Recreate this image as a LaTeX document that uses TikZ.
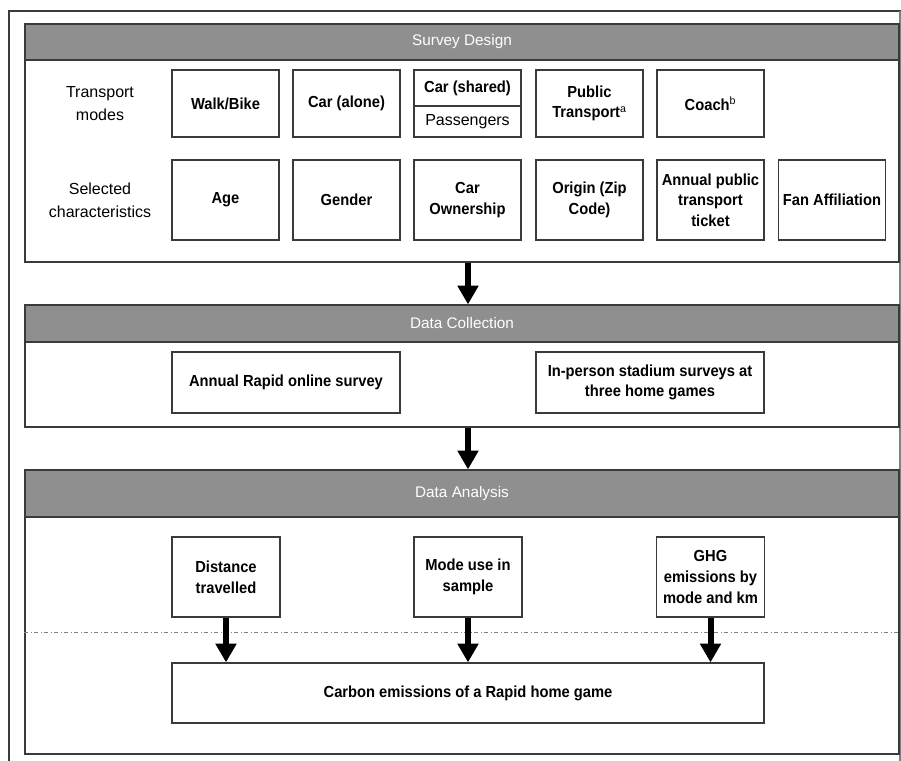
\documentclass[tikz,border=0pt]{standalone}
\usepackage{fontspec}
\setmainfont{Liberation Sans}
\newfontfamily\condsf[FakeStretch=0.92]{Liberation Sans}
\usepackage{xcolor}
\usepackage{tikz}
\usetikzlibrary{arrows.meta, calc}

\definecolor{hdrgray}{HTML}{8F8F8F}
\definecolor{edge}{HTML}{3A3A3A}

\begin{document}
\begin{tikzpicture}[
    x=0.75pt, y=-0.75pt,
    every node/.style={font=\fontsize{12}{16}\selectfont},
    panel/.style={draw=edge, line width=0.9pt, minimum width=655.5pt, inner sep=0pt},
    hdr/.style={panel, fill=hdrgray, text=white, font=\fontsize{11.5}{13}\selectfont},
    box/.style={draw=edge, line width=0.9pt, fill=white, align=center, inner sep=2pt,
                font=\condsf\fontsize{12}{15.5}\selectfont\bfseries},
    mode/.style={box, minimum width=80.25pt, minimum height=50.25pt},
    chr/.style={box, minimum width=80.25pt, minimum height=60pt},
    src/.style={box, minimum width=171pt, minimum height=45.75pt},
    ana/.style={box, minimum width=81pt, minimum height=60pt},
    lbl/.style={align=center, font=\fontsize{12}{17}\selectfont},
    flow/.style={line width=4.5pt, -{Triangle[width=15pt, length=14pt]}},
    sep/.style={draw=gray, line width=0.5pt, dash dot},
  ]
  \useasboundingbox (0,0) rectangle (901,761);
  %% ---- Page frame ----
  \draw[edge, line width=0.9pt] (9,761) -- (9,11) -- (901,11);
  \draw[gray, line width=1.2pt] (900.2,11) -- (900.2,761);
  %% ---- Panels ----
  % Survey design
  \node[panel, minimum height=178.5pt] (sd)  at (462,143) {};
  \node[hdr,   minimum height=27pt]    (sdh) at (462,42)  {Survey Design};
  % Data collection
  \node[panel, minimum height=91.5pt]  (dc)  at (462,366)   {};
  \node[hdr,   minimum height=27.75pt] (dch) at (462,323.5) {Data Collection};
  % Data analysis
  \node[panel, minimum height=213pt]   (da)  at (462,612)   {};
  \node[hdr,   minimum height=35.25pt] (dah) at (462,493.5) {Data Analysis};
  %% ---- Row labels ----
  \node[lbl] (tm) at (100,103.5) {Transport\\modes};
  \node[lbl] (sc) at (100,200)   {Selected\\characteristics};
  %% ---- Transport modes ----
  \node[mode] (walk) at (225.5,103.5) {Walk/Bike};
  \node[mode] (cara) at (346.5,103.5) {Car (alone)};
  \node[mode] (cars) at (467.5,103.5) {};
  \node[font=\condsf\fontsize{12}{15.5}\selectfont\bfseries] (carsa) at (467.5,88) {Car (shared)};
  \node (carsb) at (467.5,121.5) {Passengers};
  \draw[edge, line width=0.9pt] ($(cars.west)+(0,2.5)$) -- ($(cars.east)+(0,2.5)$);
  \node[mode] (pt)    at (589.5,103.5) {Public\\Transport$^{\mathrm{a}}$};
  \node[mode] (coach) at (710.5,103.5) {Coach$^{\mathrm{b}}$};
  %% ---- Characteristics ----
  \node[chr] (age) at (225.5,200) {Age};
  \node[chr] (gen) at (346.5,200) {Gender};
  \node[chr] (own) at (467.5,200) {Car\\Ownership};
  \node[chr] (zip) at (589.5,200) {Origin (Zip\\Code)};
  \node[chr] (tkt) at (710.5,200) {Annual public\\transport\\ticket};
  \node[chr] (fan) at (832,200)   {Fan Affiliation};
  %% ---- Data sources ----
  \node[src] (online)  at (286,382.5) {Annual Rapid online survey};
  \node[src] (stadium) at (650,382.5) {In-person stadium surveys at\\three home games};
  %% ---- Analysis ----
  \node[ana] (dist) at (226,577)   {Distance\\travelled};
  \node[ana] (use)  at (468,577)   {Mode use in\\sample};
  \node[ana] (ghg)  at (710.5,577) {GHG\\emissions by\\mode and km};
  \node[box, minimum width=444pt, minimum height=45pt] (carb) at (468,693)
    {Carbon emissions of a Rapid home game};
  \draw[sep] (da.west |- 0,632) -- (da.east |- 0,632);
  %% ---- Arrows ----
  \draw[flow] (sd.south -| use) -- (dch.north -| use);
  \draw[flow] (dc.south -| use) -- (dah.north -| use);
  \draw[flow] (dist) -- (dist |- carb.north);
  \draw[flow] (use)  -- (use |- carb.north);
  \draw[flow] (ghg)  -- (ghg |- carb.north);
\end{tikzpicture}
\end{document}
